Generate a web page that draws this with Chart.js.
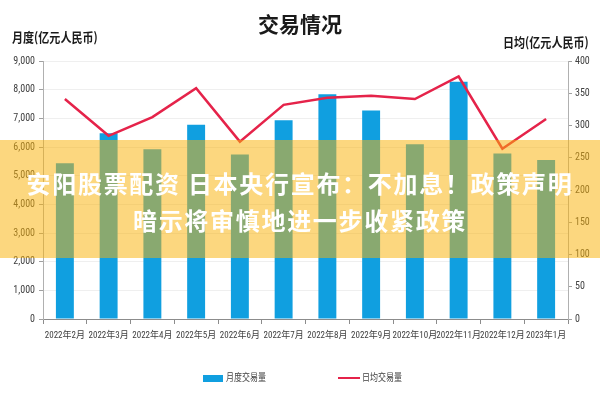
<!DOCTYPE html>
<html>
<head>
<meta charset="utf-8">
<script src="https://cdn.jsdelivr.net/npm/chart.js@4"></script>
<style>
  body { margin: 0; background: #fff; }
  #wrap { position: relative; width: 600px; height: 400px; overflow: hidden; font-family: "Noto Sans CJK SC", sans-serif; }
  #wrap canvas { position: absolute; left: 0; top: 0; }
  .txt { position: absolute; white-space: nowrap; color: #1a1a1a; font-weight: bold; }
  #title { left: 0; width: 600px; top: 9px; text-align: center; font-size: 21px; line-height: 28px; }
  #yl, #yr { font-size: 13px; line-height: 16px; transform: scaleX(0.85); transform-origin: 0 0; }
  #yl { left: 12px; top: 29px; }
  #yr { left: 503px; top: 34px; }
  .leg { position: absolute; top: 371px; font-size: 10px; line-height: 14px; color: #404040;
         font-family: "Roboto Condensed", "Noto Sans CJK SC", sans-serif; }
  .leg span { display: inline-block; transform: scaleX(0.8); transform-origin: 0 0; }
  .leg i { position: absolute; display: block; }
  #band { position: absolute; left: 0; top: 140px; width: 600px; height: 118px;
          background: rgba(250, 178, 10, 0.52); }
  #band div { text-align: center; color: #fff; font-weight: bold; font-size: 24px; line-height: 37px;
              letter-spacing: 1.7px; white-space: nowrap; }
</style>
</head>
<body>
<div id="wrap">
  <canvas id="c" width="600" height="400"></canvas>
  <div class="txt" id="title">交易情况</div>
  <div class="txt" id="yl">月度(亿元人民币)</div>
  <div class="txt" id="yr">日均(亿元人民币)</div>
  <div class="leg" id="leg1" style="left:226px"><i style="left:-23px;top:4px;width:20px;height:7px"></i><span></span></div>
  <div class="leg" id="leg2" style="left:362px"><i style="left:-24px;top:6px;width:22px;height:2px"></i><span></span></div>
  <div id="band">
    <div style="margin-top:24px">安阳股票配资 日本央行宣布：不加息！政策声明</div>
    <div>暗示将审慎地进一步收紧政策</div>
  </div>
</div>
<script>
const months = ["2022年2月", "2022年3月", "2022年4月", "2022年5月", "2022年6月", "2022年7月",
  "2022年8月", "2022年9月", "2022年10月", "2022年11月", "2022年12月", "2023年1月"];
const monthlyVolume = [5430, 6480, 5920, 6780, 5740, 6930, 7840, 7270, 6100, 8280, 5770, 5550];
const dailyAverage = [341, 284, 313, 358, 275, 332, 343, 346, 341, 376, 264, 310];
const seriesNames = ["月度交易量", "日均交易量"];
const seriesColors = ["#109FE0", "#E5234A"];

const fontFamily = '"Roboto Condensed", "Noto Sans CJK SC", sans-serif';
const tickColor = "#404040";

// html legend
[["leg1", 0], ["leg2", 1]].forEach(([id, i]) => {
  const el = document.getElementById(id);
  el.querySelector("i").style.background = seriesColors[i];
  el.querySelector("span").textContent = seriesNames[i];
});

new Chart(document.getElementById("c"), {
  data: {
    labels: months,
    datasets: [
      {
        type: "line",
        label: seriesNames[1],
        data: dailyAverage,
        yAxisID: "y1",
        borderColor: seriesColors[1],
        borderWidth: 2.5,
        pointRadius: 0,
        tension: 0,
        order: 0,
      },
      {
        type: "bar",
        label: seriesNames[0],
        data: monthlyVolume,
        yAxisID: "y",
        backgroundColor: seriesColors[0],
        categoryPercentage: 1,
        barPercentage: 0.41,
        order: 1,
      },
    ],
  },
  options: {
    responsive: false,
    animation: false,
    layout: { padding: { top: 61, left: 0, right: 0, bottom: 0 } },
    plugins: {
      legend: { display: false },
      title: { display: false },
      tooltip: { enabled: false },
    },
    scales: {
      x: {
        offset: true,
        grid: { drawOnChartArea: false, drawTicks: true, tickLength: 5, tickColor: "#8c8c8c", offset: true },
        border: { color: "#8c8c8c" },
        ticks: { color: tickColor, font: { family: fontFamily, size: 9 }, padding: 6, maxRotation: 0, autoSkip: false },
        afterFit: (s) => { s.height = 81; },
      },
      y: {
        position: "left",
        min: 0,
        max: 9000,
        ticks: { stepSize: 1000, color: tickColor, font: { family: fontFamily, size: 10 }, padding: 4,
          callback: (v) => v.toLocaleString("en-US") },
        grid: { color: "#efefef", tickColor: "#a0a0a0", tickLength: 4 },
        border: { color: "#b0b0b0" },
        afterFit: (s) => { s.width = 43; },
      },
      y1: {
        position: "right",
        min: 0,
        max: 400,
        ticks: { stepSize: 50, color: tickColor, font: { family: fontFamily, size: 10 }, padding: 3 },
        grid: { drawOnChartArea: false, tickColor: "#a0a0a0", tickLength: 4 },
        border: { color: "#b0b0b0" },
        afterFit: (s) => { s.width = 32; },
      },
    },
  },
});
</script>
</body>
</html>
